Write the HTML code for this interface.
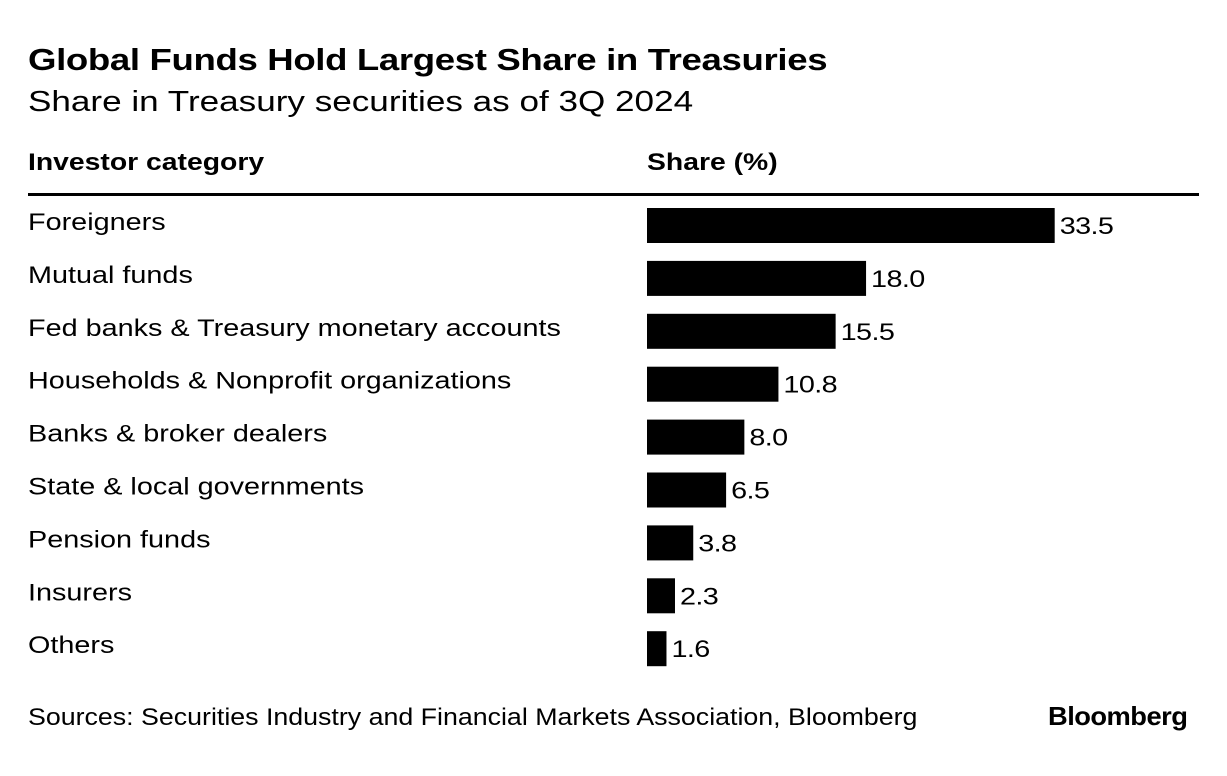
<!DOCTYPE html>
<html><head><meta charset="utf-8"><style>
body{margin:0;background:#fff;width:1227px;height:776px;overflow:hidden;font-family:"Liberation Sans",sans-serif;color:#000;position:relative}
.t{position:absolute;white-space:nowrap;transform-origin:0 0}
</style></head><body>
<div class="t" style="left:28px;top:42px;font-size:31px;font-weight:bold;letter-spacing:-0.3px;transform:scaleX(1.18)">Global Funds Hold Largest Share in Treasuries</div>
<div class="t" style="left:28px;top:86px;font-size:29px;transform:scaleX(1.21)">Share in Treasury securities as of 3Q 2024</div>
<div class="t" style="left:28px;top:149px;font-size:24px;font-weight:bold;transform:scaleX(1.18)">Investor category</div>
<div class="t" style="left:647px;top:149px;font-size:24px;font-weight:bold;transform:scaleX(1.18)">Share (%)</div>
<div style="position:absolute;left:28px;top:193px;width:1171px;height:3px;background:#000"></div>
<svg id="chart" width="1227" height="776" style="position:absolute;left:0;top:0"></svg>
<div class="t" style="left:28px;top:704px;font-size:24px;transform:scaleX(1.115)">Sources: Securities Industry and Financial Markets Association, Bloomberg</div>
<div class="t" style="left:1048px;top:701px;font-size:26px;font-weight:bold;letter-spacing:-0.5px;transform:scaleX(1.05)">Bloomberg</div>
<script>
const categories=["Foreigners","Mutual funds","Fed banks & Treasury monetary accounts","Households & Nonprofit organizations","Banks & broker dealers","State & local governments","Pension funds","Insurers","Others"];
const values=[33.5,18.0,15.5,10.8,8.0,6.5,3.8,2.3,1.6];
const labels=["33.5","18.0","15.5","10.8","8.0","6.5","3.8","2.3","1.6"];
const NS="http://www.w3.org/2000/svg";
const svg=document.getElementById('chart');
const x0=647,scale=12.17,y0=208,pitch=52.9,bh=35;
const xs=v=>v*scale, ys=i=>y0+i*pitch;
categories.forEach((c,i)=>{
 const t=document.createElementNS(NS,'text');
 
 
 t.setAttribute('transform','translate(28,'+(ys(i)+22)+') scale(1.2,1)');
 t.setAttribute('font-size','24');t.setAttribute('font-family','Liberation Sans, sans-serif');
 t.textContent=c;svg.appendChild(t);
 const r=document.createElementNS(NS,'rect');
 
 
 r.setAttribute('x',x0);r.setAttribute('y',ys(i));r.setAttribute('width',xs(values[i]));r.setAttribute('height',bh);
 r.setAttribute('fill','#000');svg.appendChild(r);
 const v=document.createElementNS(NS,'text');
 
 
 v.setAttribute('transform','translate('+(x0+xs(values[i])+5)+','+(ys(i)+26)+') scale(1.2,1)');
 v.setAttribute('font-size','24');v.setAttribute('font-family','Liberation Sans, sans-serif');
 v.setAttribute('letter-spacing','-0.5');
 v.textContent=labels[i];svg.appendChild(v);
});
</script>
</body></html>
